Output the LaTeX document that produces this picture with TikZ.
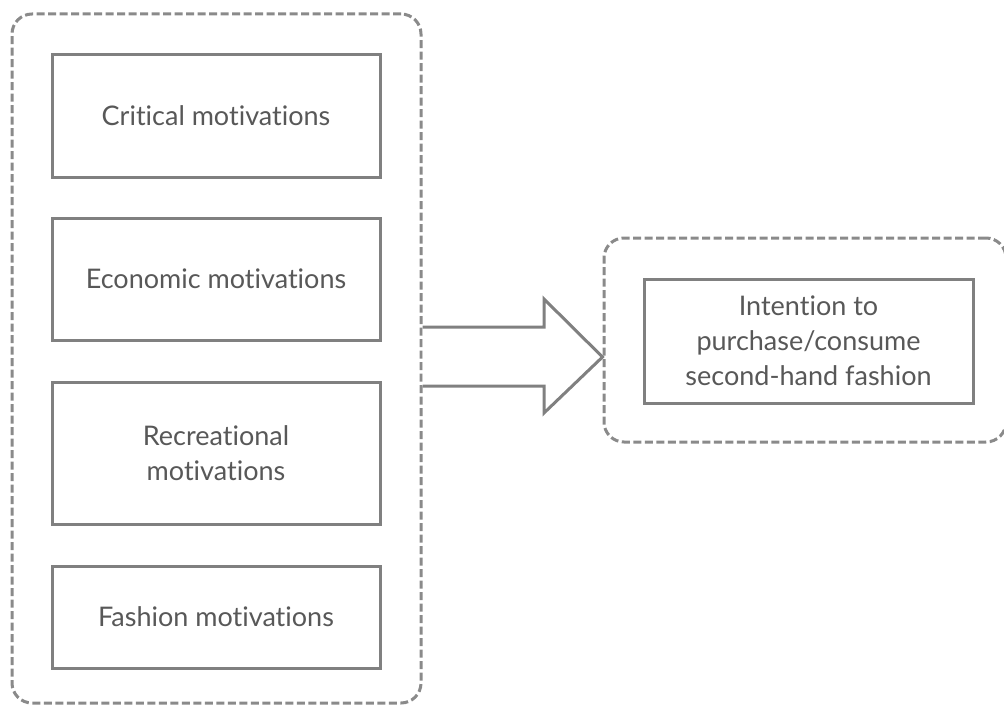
\documentclass[tikz,border=0pt]{standalone}
\usepackage{fontspec}
\setmainfont{Lato}[Ligatures={NoCommon,NoContextual}]
\usetikzlibrary{calc}
\definecolor{boxgray}{HTML}{808080}
\definecolor{dashgray}{HTML}{8A8A8A}
\definecolor{txtgray}{HTML}{585858}
\tikzset{
  px/.style={x=1pt,y=-1pt},
  motbox/.style={draw=boxgray, line width=3pt, fill=white, text=txtgray, align=center,
    font=\fontsize{27}{35}\selectfont, inner sep=0pt},
  container/.style={draw=dashgray, line width=3pt, dash pattern=on 8pt off 3.5pt,
    rounded corners=20pt, inner sep=0pt},
  bigarrow/.style={draw=boxgray, line width=3pt, fill=white, line join=miter}
}
\begin{document}
\begin{tikzpicture}[px]
\useasboundingbox (0,0) rectangle (1004,706);
% containers
\node[container, minimum width=409pt, minimum height=689pt] (L) at (216.5,358.5) {};
\node[container, minimum width=402pt, minimum height=204pt] (R) at (805,340) {};
% left boxes
\node[motbox, minimum width=328pt, minimum height=122pt] (crit) at (216,116) {Critical motivations};
\node[motbox, minimum width=328pt, minimum height=122pt] (econ) at (216,279) {Economic motivations};
\node[motbox, minimum width=328pt, minimum height=142pt] (recr) at (216,453) {Recreational\\motivations};
\node[motbox, minimum width=328pt, minimum height=102pt] (fash) at (216,617) {Fashion motivations};
% right box
\node[motbox, minimum width=329pt, minimum height=124pt] (int) at (808.5,341) {Intention to\\purchase/consume\\second-hand fashion};
% arrow
\coordinate (tip) at (R.west |- 0,357);
\draw[bigarrow] ($(L.east |- 0,327)$) -- (544,327) -- (544,299) -- (tip) -- (544,413) -- (544,386) -- ($(L.east |- 0,386)$);
\end{tikzpicture}
\end{document}
